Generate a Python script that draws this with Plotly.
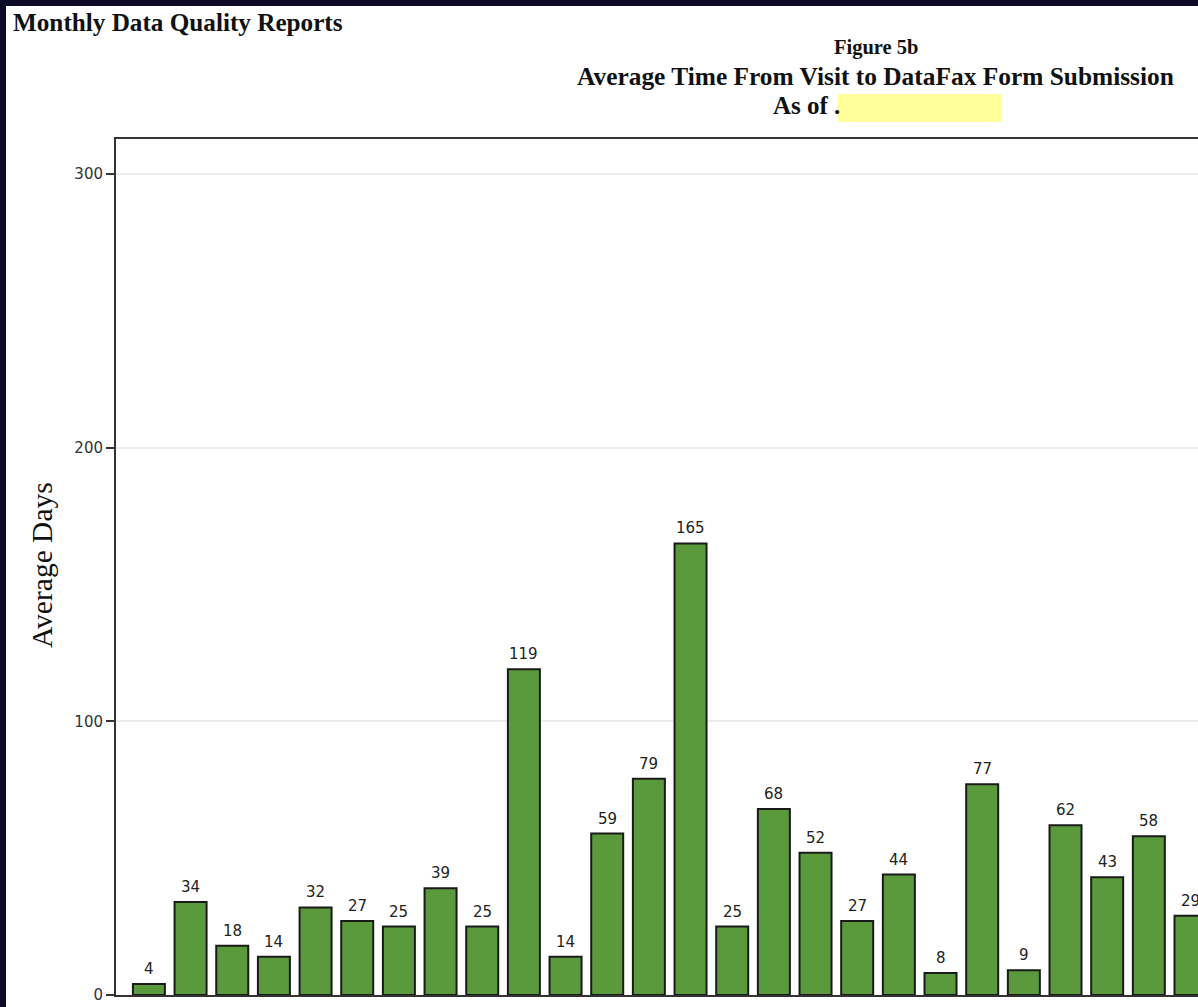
import plotly.graph_objects as go

# Average days from visit to DataFax form submission, one bar per site
avg_days = [4, 34, 18, 14, 32, 27, 25, 39, 25, 119, 14, 59, 79, 165,
            25, 68, 52, 27, 44, 8, 77, 9, 62, 43, 58, 29]
site_pos = list(range(len(avg_days)))
y_ticks = [0, 100, 200, 300]

W, H = 1198, 1007
L, T, B_MARGIN = 116, 139, 12
PW = W - L
PH = H - T - B_MARGIN


def px_x(px):
    return (px - L) / PW


def px_y(py):
    return (H - B_MARGIN - py) / PH


SERIF = "Liberation Serif, Times New Roman, serif"
SANS = "DejaVu Sans, Verdana, sans-serif"

fig = go.Figure()
fig.add_trace(go.Bar(
    x=site_pos,
    y=avg_days,
    marker=dict(color="#5a9a3c", line=dict(color="#1a1a1a", width=2)),
    hoverinfo="y",
))

annotations = []
for xp, v in zip(site_pos, avg_days):
    annotations.append(dict(
        x=xp, y=v, xref="x", yref="y", text=str(v), showarrow=False,
        yanchor="bottom", yshift=4,
        font=dict(family=SANS, size=15, color="#222222"),
    ))

# Header and titles
annotations += [
    dict(x=px_x(11), y=px_y(23), xref="paper", yref="paper",
         text="<b>Monthly Data Quality Reports</b>", showarrow=False,
         xanchor="left", yanchor="middle",
         font=dict(family=SERIF, size=25.2, color="#111111")),
    dict(x=px_x(876), y=px_y(47), xref="paper", yref="paper",
         text="<b>Figure 5b</b>", showarrow=False,
         xanchor="center", yanchor="middle",
         font=dict(family=SERIF, size=20.5, color="#111111")),
    dict(x=px_x(875.5), y=px_y(76), xref="paper", yref="paper",
         text="<b>Average Time From Visit to DataFax Form Submission</b>",
         showarrow=False, xanchor="center", yanchor="middle",
         font=dict(family=SERIF, size=25.4, color="#111111")),
    dict(x=px_x(771), y=px_y(105), xref="paper", yref="paper",
         text="<b>As of .</b>", showarrow=False,
         xanchor="left", yanchor="middle",
         font=dict(family=SERIF, size=25, color="#111111")),
    dict(x=px_x(42), y=px_y(565), xref="paper", yref="paper",
         text="Average Days", showarrow=False, textangle=-90,
         xanchor="center", yanchor="middle",
         font=dict(family=SERIF, size=29.5, color="#111111")),
]

shapes = [
    # highlighted date field
    dict(type="rect", xref="paper", yref="paper",
         x0=px_x(838), x1=px_x(1002), y0=px_y(122), y1=px_y(94),
         fillcolor="#ffff99", line=dict(width=0), layer="above"),
    # dark window frame on the left and top edges
    dict(type="rect", xref="paper", yref="paper",
         x0=px_x(0), x1=px_x(6), y0=px_y(H), y1=px_y(0),
         fillcolor="#0c0a24", line=dict(width=0), layer="above"),
    dict(type="rect", xref="paper", yref="paper",
         x0=px_x(0), x1=px_x(W), y0=px_y(6), y1=px_y(0),
         fillcolor="#0c0a24", line=dict(width=0), layer="above"),
]

fig.update_layout(
    width=W, height=H,
    margin=dict(l=L, r=0, t=T, b=B_MARGIN, pad=0),
    paper_bgcolor="white", plot_bgcolor="white",
    showlegend=False,
    bargap=0.232,
    annotations=annotations,
    shapes=shapes,
    xaxis=dict(
        range=[-0.79, 25.18], showticklabels=False, ticks="",
        showgrid=False, zeroline=False,
        showline=True, mirror=True, linecolor="#333333", linewidth=2,
    ),
    yaxis=dict(
        range=[0, 312.8], tickvals=y_ticks, ticks="outside", ticklen=8,
        tickwidth=1.5, tickcolor="#333333",
        tickfont=dict(family=SANS, size=15, color="#333333"),
        showgrid=True, gridcolor="#ececec", gridwidth=2,
        zeroline=False, showline=True, linecolor="#333333", linewidth=2,
    ),
)

fig.write_html("out.html")
